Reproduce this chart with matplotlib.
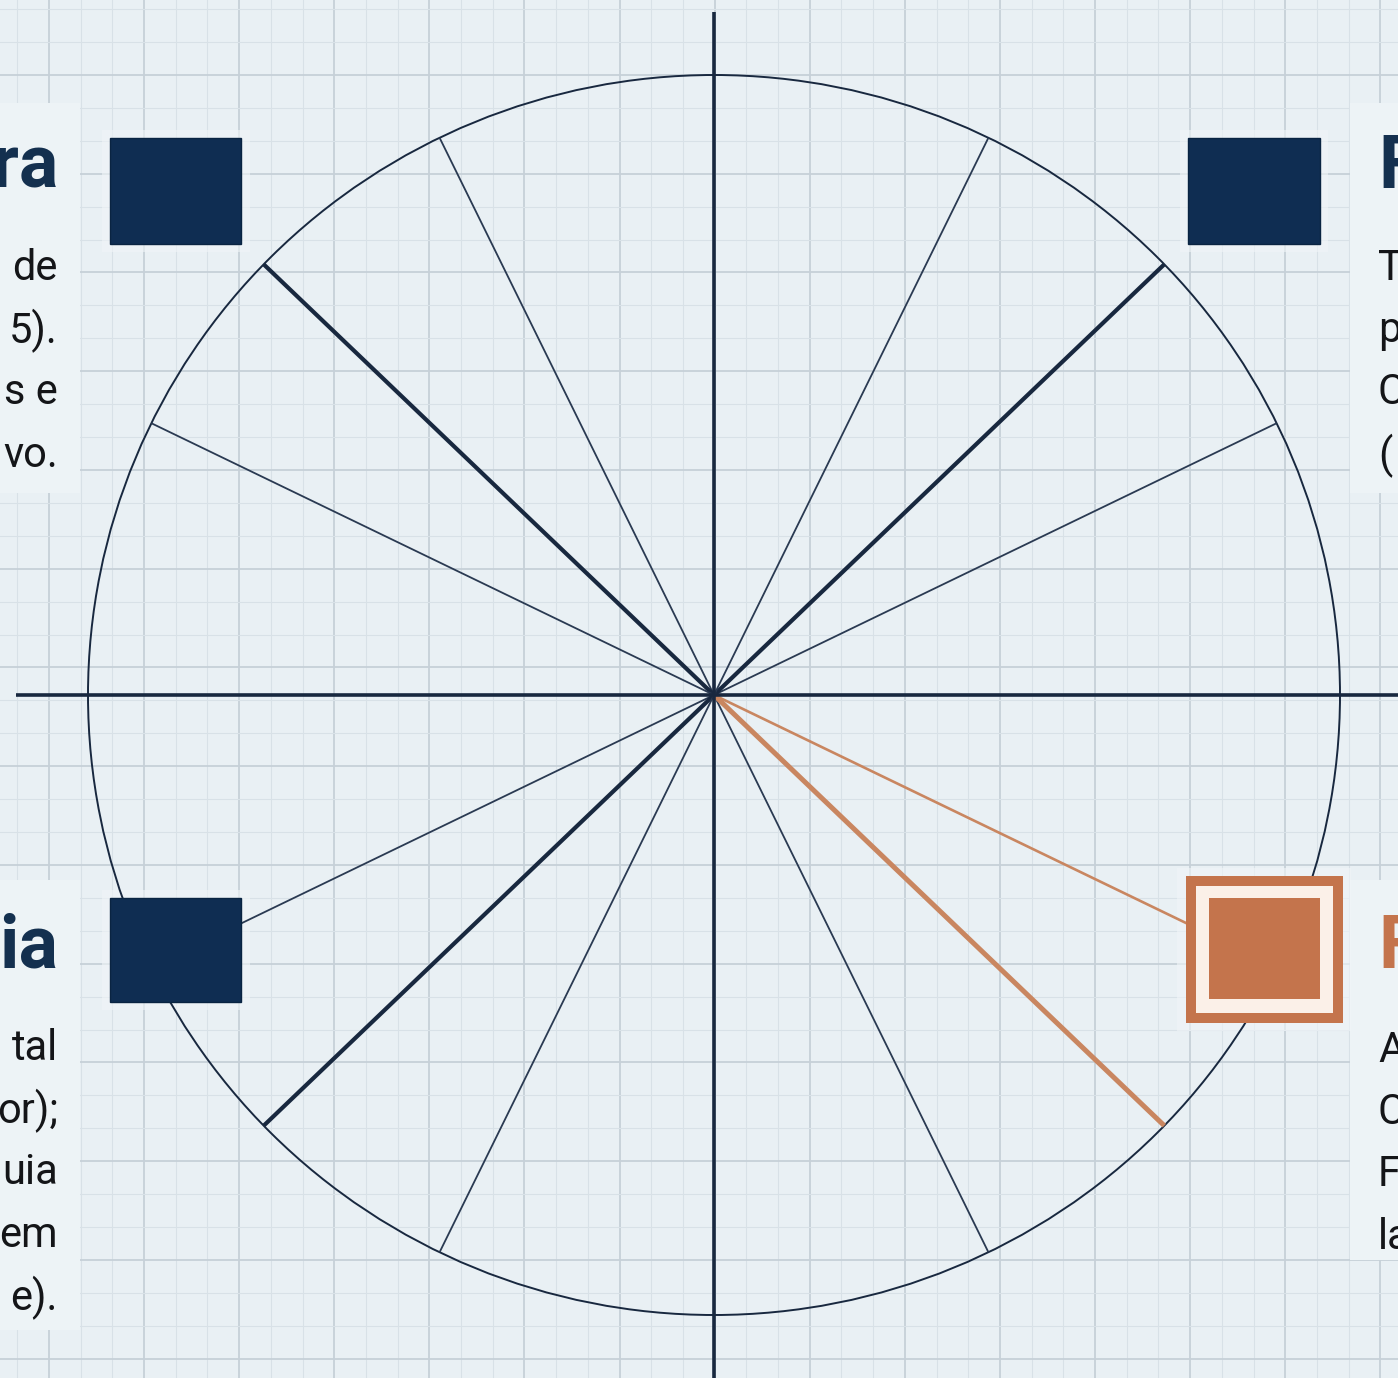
import numpy as np
import matplotlib.pyplot as plt
from matplotlib.patches import Ellipse, Rectangle

# spokes: angle in degrees (counter-clockwise from +x) and style
spoke_angles = [26, 44, 64, 116, 136, 154, 206, 224, 244, 296, 316, 334]
spoke_kinds = ['thin', 'thick', 'thin', 'thin', 'thick', 'thin',
               'thin', 'thick', 'thin', 'thin', 'accent_thick', 'accent_thin']

# visible text fragments (the labels are cut by the image edges)
tl_title = 'ra'
tl_lines = ['de', '5).', 's e', 'vo.']
bl_title = 'ia'
bl_lines = ['tal', 'or);', 'uia', 'em', 'e).']
tr_title = 'F'
tr_lines = ['T', 'p', 'C', '(']
br_title = 'F'
br_lines = ['A', 'C', 'F', 'la']

W, H = 1398, 1378
cx, cy = 714, 695
rx, ry = 626, 620

BG = '#e9f0f4'
PANEL = '#edf3f6'
NAVY = '#0f2d52'
LINE = '#18283f'
ORANGE = '#c4744c'
ORANGE_LINE = '#c98660'
TEXT = '#141518'

plt.rcParams['font.family'] = ['Roboto', 'DejaVu Sans']

fig = plt.figure(figsize=(W / 100, H / 100), dpi=100)
fig.patch.set_facecolor(BG)
ax = fig.add_axes([0, 0, 1, 1])
ax.set_xlim(0, W)
ax.set_ylim(H, 0)
ax.axis('off')
ax.set_facecolor(BG)

# graph-paper grid
xstep, ystep = 95.1, 98.75
for i, x in enumerate(np.arange(49 - 3 * xstep, W + xstep, xstep / 3)):
    ax.axvline(x, color='#c6d0d8' if i % 3 == 0 else '#d8e1e7',
               lw=1.3 if i % 3 == 0 else 0.8, zorder=1)
for i, y in enumerate(np.arange(75 - 3 * ystep, H + ystep, ystep / 3)):
    ax.axhline(y, color='#c6d0d8' if i % 3 == 0 else '#d8e1e7',
               lw=1.3 if i % 3 == 0 else 0.8, zorder=1)

# text panels hiding the grid
for (x0, y0, w, h) in [(0, 103, 80, 390), (0, 880, 80, 450),
                       (1350, 103, 60, 390), (1350, 880, 60, 380)]:
    ax.add_patch(Rectangle((x0, y0), w, h, facecolor=PANEL, edgecolor='none', zorder=2))

# soft halos around the boxes
for (x0, y0, w, h) in [(102, 130, 148, 122), (1180, 130, 148, 122),
                       (102, 890, 148, 120), (1177, 868, 174, 163)]:
    ax.add_patch(Rectangle((x0, y0), w, h, facecolor='#f1f5f8', edgecolor='none',
                           alpha=0.6, zorder=2))

# axes
ax.plot([16, W], [cy, cy], color=LINE, lw=2.6, solid_capstyle='butt', zorder=4)
ax.plot([cx, cx], [12, H], color=LINE, lw=2.6, solid_capstyle='butt', zorder=4)

# circle
ax.add_patch(Ellipse((cx, cy), 2 * rx, 2 * ry, facecolor='none', edgecolor=LINE,
                     lw=1.4, zorder=3))

# spokes
styles = {
    'thin': dict(color='#2a3a52', lw=1.3),
    'thick': dict(color=LINE, lw=3.0),
    'accent_thick': dict(color=ORANGE_LINE, lw=3.6),
    'accent_thin': dict(color=ORANGE_LINE, lw=1.9),
}
for ang, kind in zip(spoke_angles, spoke_kinds):
    t = np.deg2rad(ang)
    ax.plot([cx, cx + rx * np.cos(t)], [cy, cy - ry * np.sin(t)],
            solid_capstyle='butt', zorder=3, **styles[kind])

# navy boxes
for (x0, y0, w, h) in [(110, 138, 131, 106), (1188, 138, 132, 106), (110, 898, 131, 104)]:
    ax.add_patch(Rectangle((x0, y0), w, h, facecolor=NAVY, edgecolor='#0a2442',
                           lw=1.0, zorder=5))

# highlighted orange box
ax.add_patch(Rectangle((1186, 876), 157, 147, facecolor=ORANGE, edgecolor='none', zorder=5))
ax.add_patch(Rectangle((1196, 886), 137, 127, facecolor='#fbf0e8', edgecolor='none', zorder=5))
ax.add_patch(Rectangle((1209, 898), 111, 101, facecolor=ORANGE, edgecolor='none', zorder=5))

# text
line_gap = 62.5


def block(x, ha, title, lines, title_y, body_y, title_color):
    ax.text(x, title_y, title, ha=ha, va='center', fontsize=53, fontweight='bold',
            color=title_color, zorder=6, clip_on=True)
    for k, s in enumerate(lines):
        ax.text(x, body_y + k * line_gap, s, ha=ha, va='center', fontsize=30,
                color=TEXT, zorder=6, clip_on=True)


block(58, 'right', tl_title, tl_lines, 168, 268, '#14304f')
block(58, 'right', bl_title, bl_lines, 948, 1048, '#14304f')
block(1378, 'left', tr_title, tr_lines, 168, 268, '#14304f')
block(1378, 'left', br_title, br_lines, 948, 1050, ORANGE)

fig.savefig('out.png', dpi=100, facecolor=BG)
